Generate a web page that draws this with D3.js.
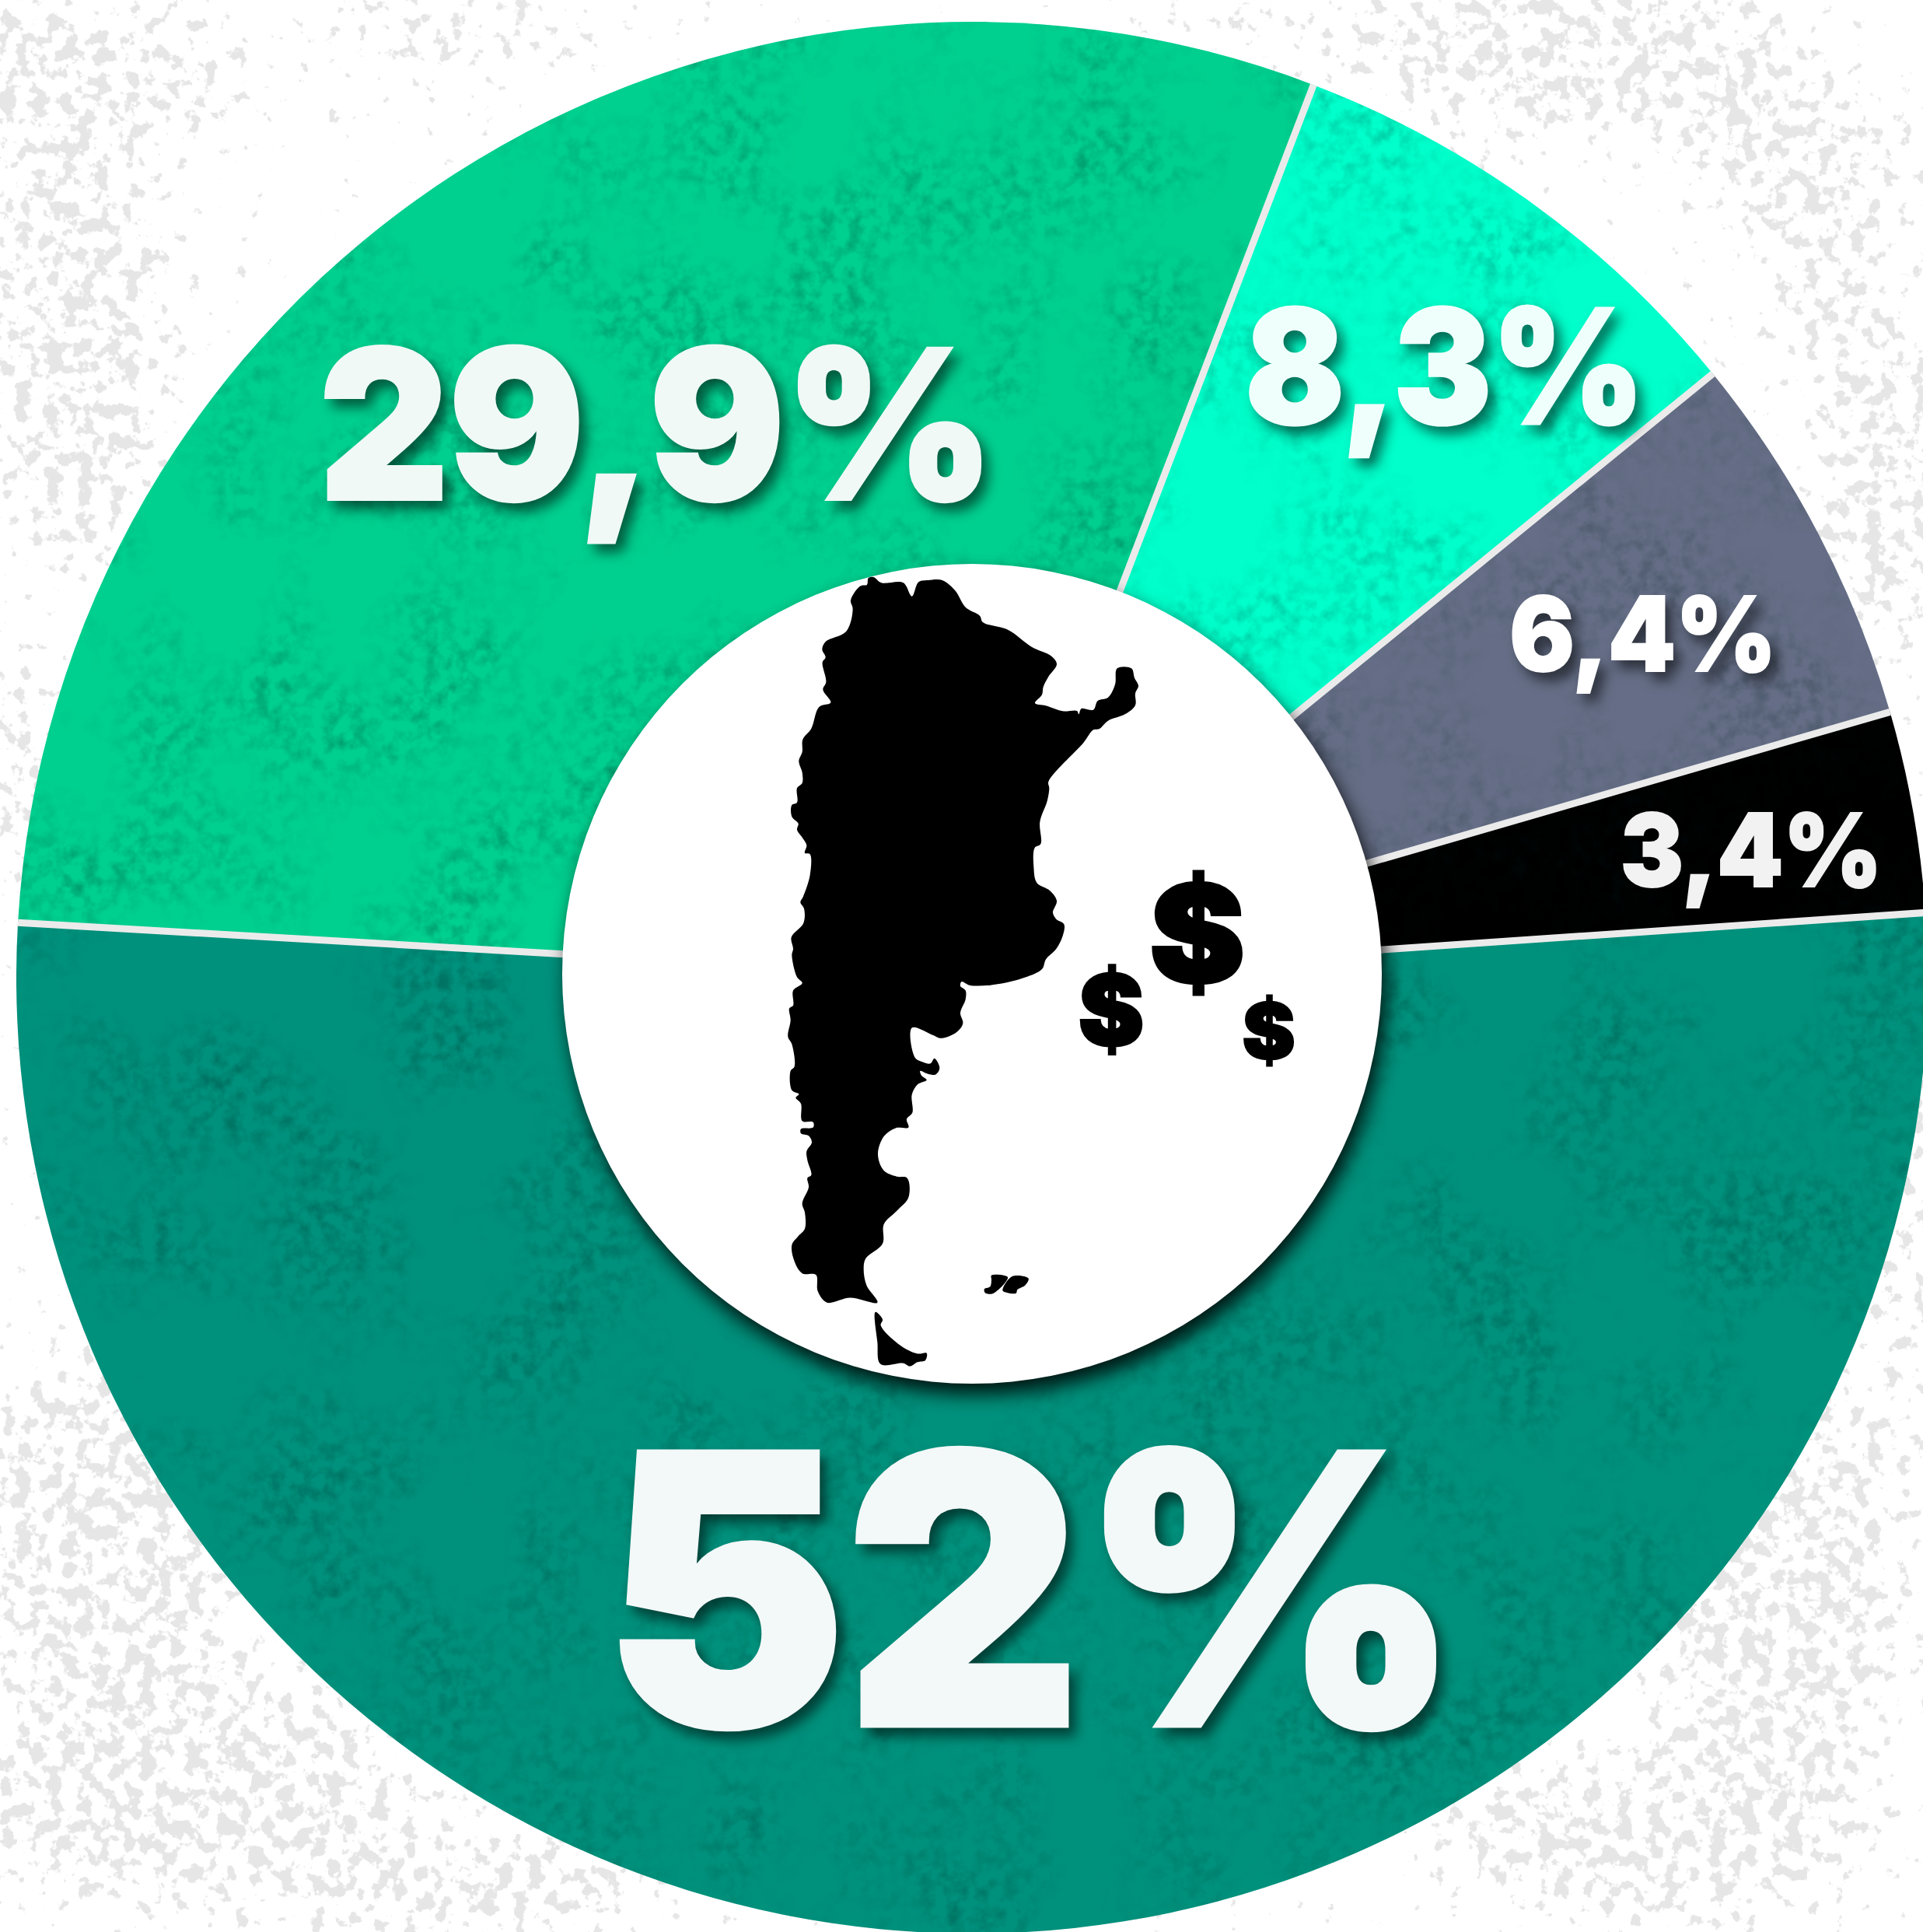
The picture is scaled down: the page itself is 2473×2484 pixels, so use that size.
<!DOCTYPE html>
<html><head><meta charset="utf-8">
<script src="https://cdn.jsdelivr.net/npm/d3@7"></script>
<style>html,body{margin:0;padding:0;background:#fff}svg{display:block}</style>
</head><body><div id="chart"></div>
<script>
// ---- data ----
const sliceLabels = ["52%", "29,9%", "8,3%", "6,4%", "3,4%"];
const sliceValues = [52, 29.9, 8.3, 6.4, 3.4];
const sliceColors = ["#00917c", "#00d08f", "#00ffcb", "#656e86", "#000000"];
const labelColors = ["#f3f8f8", "#f0f9f6", "#effffb", "#ffffff", "#f2f2f2"];
// label boxes: left, right, cap top, baseline
const labelBoxes = [[800,1845,1866,2218],[418,1261,447,642],[1607,2102,395,545],[1945,2276,766,863],[2088,2412,1045,1140]];
const dollarBoxes = [[1483,1596,1121,1280],[1390,1468,1241,1356],[1600,1663,1279,1370]];
// where the paper texture is heavy: x, y, rx, ry (in the shrunk 1561 picture)
const paperPatches = [[1280,45,190,70],[1460,130,90,60],[1530,400,60,140],[1490,240,50,70],[60,280,80,190],[40,60,170,60],[380,20,130,30],[20,640,40,110],[90,1240,130,150],[140,1450,190,100],[380,1530,170,50],[1440,1300,110,190],[1340,1490,190,70],[1545,1000,30,200],[1010,20,110,18]];

// map outline
const mapNorthEast = [[410,70],[430,66],[460,88],[545,88],[578,140],[604,85],[640,78],[695,78],[745,118],[785,182],[840,215],[852,240],[950,270],[1040,335],[1115,370],[1137,402],[1105,450],[1085,490],[1080,520],[1053,552],[1095,562],[1160,583],[1215,582],[1222,595],[1232,573],[1278,578],[1295,543],[1335,530],[1362,480],[1370,418],[1425,418],[1437,455],[1452,485],[1440,515],[1440,560],[1400,595],[1335,620],[1300,652],[1278,655],[1240,705],[1105,855],[1108,880],[1100,930],[1072,1010],[1075,1095],[1052,1110],[1048,1183],[1060,1245],[1110,1275],[1137,1315],[1122,1360],[1135,1385],[1165,1405],[1160,1450],[1135,1500]];
const mapSouth = [[1095,35],[1080,68],[1000,100],[880,122],[800,122],[770,110],[765,125],[785,140],[785,170],[765,215],[775,250],[750,280],[690,300],[660,290],[578,265],[590,365],[620,380],[650,385],[665,368],[685,400],[670,422],[640,420],[610,410],[615,425],[635,440],[600,455],[578,490],[580,550],[558,572],[565,600],[515,602],[470,630],[447,690],[470,745],[520,765],[560,770],[565,835],[520,880],[470,925],[465,990],[400,1040],[392,1075],[403,1130],[445,1188],[340,1172],[250,1188],[215,1150],[208,1095],[155,1090],[125,1050],[115,995],[140,965],[165,940],[165,885],[155,855],[180,800],[175,770],[190,760],[175,710],[172,680],[192,650],[180,628],[150,620],[150,605],[197,600],[197,582],[155,578],[150,520],[130,500],[142,488],[115,475],[110,410],[125,395],[115,320],[100,295],[110,240],[105,200],[120,190],[120,140],[155,115],[135,95],[115,20]];
const mapNorthWest = [[120,1500],[113,1455],[160,1400],[162,1345],[148,1320],[158,1300],[185,1215],[185,1135],[165,1130],[172,1100],[155,1070],[135,1040],[140,1017],[115,990],[115,945],[135,935],[135,880],[155,860],[155,820],[142,775],[155,740],[157,692],[190,650],[220,567],[265,550],[235,500],[247,470],[233,395],[245,375],[232,345],[245,315],[325,275],[350,190],[342,155],[380,100],[405,95]];
const mapFuego = [[437,1220],[465,1245],[458,1265],[530,1330],[600,1360],[635,1358],[630,1382],[600,1388],[570,1402],[545,1392],[457,1395],[445,1320]];
const mapIslands = [[[885,1097],[948,1103],[890,1158],[860,1155],[858,1142],[880,1135],[885,1112]],[[965,1100],[1028,1107],[1015,1130],[985,1145],[980,1157],[945,1155],[928,1148]]];

// ---- layout ----
const W = 2473, H = 2484, cx = 1250, cy = 1257, R = 1229, discX = 1250, discY = 1252, r0 = 527;
const fontFam = "Inter, 'Open Sans', sans-serif";
const deg = Math.PI / 180;
const shrink = 2473 / 1561;

const svg = d3.select("#chart").append("svg").attr("width", W).attr("height", H).attr("viewBox", [0,0,W,H]);
const defs = svg.append("defs");

function filter(id){
  return defs.append("filter").attr("id", id).attr("filterUnits","userSpaceOnUse")
    .attr("x",0).attr("y",0).attr("width",W).attr("height",H)
    .attr("color-interpolation-filters","sRGB");
}
// grey speckles: noise lifted by blurred patches, then thresholded
const fg = filter("grunge");
fg.append("feGaussianBlur").attr("in","SourceAlpha").attr("stdDeviation",45).attr("result","patch");
fg.append("feTurbulence").attr("type","fractalNoise").attr("baseFrequency",0.05).attr("numOctaves",4).attr("seed",3).attr("result","fine");
fg.append("feColorMatrix").attr("in","fine").attr("values","0 0 0 0 1  0 0 0 0 1  0 0 0 0 1  1 0 0 0 0").attr("result","fa");
fg.append("feComposite").attr("in","fa").attr("in2","patch").attr("operator","arithmetic")
  .attr("k1",0).attr("k2",1).attr("k3",0.26).attr("k4",0).attr("result","sum");
fg.append("feComponentTransfer").attr("in","sum").attr("result","th").append("feFuncA").attr("type","linear").attr("slope",16).attr("intercept",-12.2);
fg.append("feFlood").attr("flood-color","#e6e6e6").attr("result","col");
fg.append("feComposite").attr("in","col").attr("in2","th").attr("operator","in");

// subtle fine grain on the slices, gathered in broad clouds
const fs = filter("grain");
fs.append("feTurbulence").attr("type","fractalNoise").attr("baseFrequency",0.055).attr("numOctaves",3).attr("seed",4).attr("result","n1");
fs.append("feColorMatrix").attr("in","n1").attr("values","0 0 0 0 0  0 0 0 0 0.1  0 0 0 0 0.1  2.2 0 0 0 -0.85").attr("result","a1");
fs.append("feTurbulence").attr("type","fractalNoise").attr("baseFrequency",0.006).attr("numOctaves",3).attr("seed",9).attr("result","n2");
fs.append("feColorMatrix").attr("in","n2").attr("values","0 0 0 0 0  0 0 0 0 0  0 0 0 0 0  2.5 0 0 0 -0.9").attr("result","a2");
fs.append("feComposite").attr("in","a1").attr("in2","a2").attr("operator","in").attr("result","a3");
fs.append("feColorMatrix").attr("in","a3").attr("values","1 0 0 0 0  0 1 0 0 0  0 0 1 0 0  0 0 0 0.26 0").attr("result","a4");
fs.append("feComposite").attr("in","a4").attr("in2","SourceAlpha").attr("operator","in").attr("result","b");
const fm = fs.append("feMerge");
fm.append("feMergeNode").attr("in","SourceGraphic");
fm.append("feMergeNode").attr("in","b");

const fd = filter("circleShadow");
fd.append("feDropShadow").attr("dx",6).attr("dy",14).attr("stdDeviation",12).attr("flood-color","#000").attr("flood-opacity",0.85);
const ft = filter("textShadow");
ft.append("feDropShadow").attr("dx",9).attr("dy",11).attr("stdDeviation",8).attr("flood-color","#000").attr("flood-opacity",0.55);

// background
svg.append("rect").attr("width",W).attr("height",H).attr("fill","#fff");
svg.append("g").attr("filter","url(#grunge)").selectAll("ellipse").data(paperPatches).join("ellipse")
  .attr("cx",d=>d[0]*shrink).attr("cy",d=>d[1]*shrink).attr("rx",d=>d[2]*shrink).attr("ry",d=>d[3]*shrink);

// pie
const pie = d3.pie().sort(null).value(d => d).startAngle(86.1*deg).endAngle((86.1+360)*deg);
const arcs = pie(sliceValues);
const arc = d3.arc().innerRadius(0).outerRadius(R);
svg.append("g").attr("filter","url(#grain)")
  .append("g").attr("transform",`translate(${cx},${cy})`)
  .selectAll("path").data(arcs).join("path")
  .attr("d",arc).attr("fill",(d,i)=>sliceColors[i]);
svg.append("g").attr("transform",`translate(${cx},${cy})`)
  .selectAll("line").data(arcs).join("line")
  .attr("x2",d=>d3.pointRadial(d.startAngle,R)[0]).attr("y2",d=>d3.pointRadial(d.startAngle,R)[1])
  .attr("stroke","#ebebeb").attr("stroke-width",9);

// centre disc
svg.append("circle").attr("cx",discX).attr("cy",discY).attr("r",r0).attr("fill","#fff").attr("filter","url(#circleShadow)");

// map
const pN = p => [980+p[0]/3, 720+p[1]/3];
const pS = p => [980+p[0]/3, 1220+p[1]/2.613];
const outline = mapNorthEast.map(pN).concat(mapSouth.map(pS), mapNorthWest.map(pN));
const curve = d3.line().curve(d3.curveCatmullRomClosed.alpha(0.5));
const mapG = svg.append("g").attr("fill","#000");
mapG.append("path").attr("d",curve(outline));
mapG.append("path").attr("d",curve(mapFuego.map(pS)));
mapIslands.forEach(s => mapG.append("path").attr("d",curve(s.map(pS))));

// text fitted to measured boxes
const ctx = document.createElement("canvas").getContext("2d");
function fitted(parent, str, box, color){
  const [x0,x1,top,base] = box;
  const fs0 = 200;
  ctx.font = `900 ${fs0}px ${fontFam}`;
  const m = ctx.measureText(str);
  const cap = ctx.measureText("H").actualBoundingBoxAscent;
  const inkW = m.actualBoundingBoxRight + m.actualBoundingBoxLeft;
  const sx = (x1-x0)/inkW, sy = (base-top)/cap;
  return parent.append("text")
    .attr("transform",`translate(${x0 + m.actualBoundingBoxLeft*sx},${base}) scale(${sx},${sy})`)
    .attr("font-family",fontFam).attr("font-weight",900).attr("font-size",fs0)
    .attr("fill",color).attr("stroke",color).attr("stroke-width",3).text(str);
}
function fittedFull(parent, str, box, color){
  const [x0,x1,top,bot] = box;
  const fs0 = 200;
  ctx.font = `900 ${fs0}px ${fontFam}`;
  const m = ctx.measureText(str);
  const inkW = m.actualBoundingBoxRight + m.actualBoundingBoxLeft;
  const inkH = m.actualBoundingBoxAscent + m.actualBoundingBoxDescent;
  const sx = (x1-x0)/inkW, sy = (bot-top)/inkH;
  return parent.append("text")
    .attr("transform",`translate(${x0 + m.actualBoundingBoxLeft*sx},${top + m.actualBoundingBoxAscent*sy}) scale(${sx},${sy})`)
    .attr("font-family",fontFam).attr("font-weight",900).attr("font-size",fs0)
    .attr("fill",color).attr("stroke",color).attr("stroke-width",5).text(str);
}
dollarBoxes.forEach(b => fittedFull(svg,"$",b,"#000"));
const labG = svg.append("g");
sliceLabels.forEach((s,i) => {
  const g = labG.append("g");
  if (i < 4) g.attr("filter","url(#textShadow)");
  fitted(g, s, labelBoxes[i], labelColors[i]);
});
</script></body></html>
